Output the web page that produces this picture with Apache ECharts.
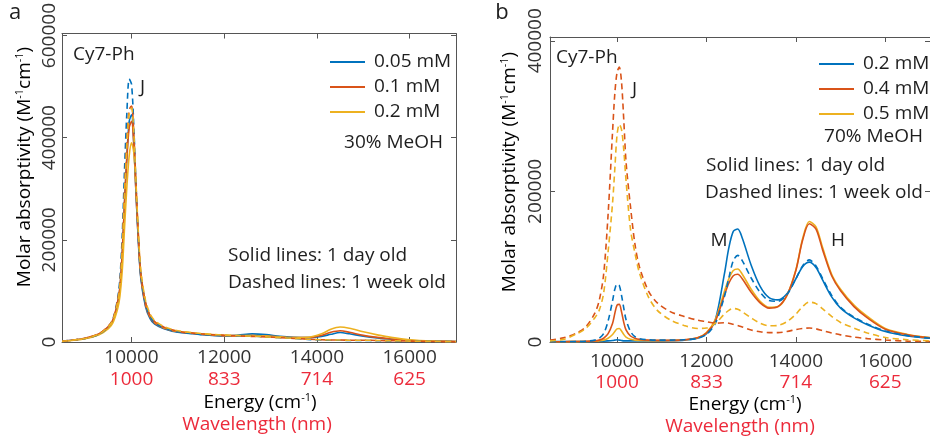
<!DOCTYPE html>
<html><head><meta charset="utf-8">
<script src="https://cdn.jsdelivr.net/npm/echarts@6/dist/echarts.min.js"></script>
<style>html,body{margin:0;padding:0;background:#fff}#c{width:930px;height:442px}</style>
</head><body><div id="c"></div>
<script>
// ---------- Panel a (30% MeOH) ----------
const energyA = [8500, 9000, 9300, 9500, 9600, 9700, 9750, 9800, 9850, 9900, 9950, 10000, 10050, 10100, 10150, 10200, 10300, 10400, 10500, 10700, 11000, 11500, 12000, 12300, 12600, 12900, 13200, 13500, 13800, 14100, 14300, 14500, 14700, 15000, 15300, 15600, 16000, 16500, 17000];
const a005Day = [1500, 7000, 15000, 29000, 42000, 75000, 105000, 172000, 275000, 365000, 432000, 445000, 388000, 285000, 192000, 125000, 70000, 46000, 35000, 26000, 19000, 14500, 12000, 13500, 16000, 14500, 11000, 9000, 8500, 11000, 15000, 18500, 16000, 11500, 8000, 5500, 3000, 1500, 800];
const a01Day = [1500, 7500, 16000, 30000, 44000, 78000, 108000, 175000, 275000, 360000, 420000, 432000, 385000, 285000, 195000, 128000, 73000, 48000, 37000, 27000, 20000, 15500, 12500, 12000, 12500, 11500, 10000, 8500, 8500, 13000, 19000, 22000, 19000, 13000, 9000, 6000, 3000, 1500, 800];
const a02Day = [1200, 6500, 14000, 26000, 38000, 65000, 90000, 140000, 225000, 305000, 365000, 390000, 370000, 295000, 205000, 135000, 78000, 51000, 39000, 28000, 21000, 16000, 13000, 12500, 12500, 11500, 10000, 8500, 9000, 16000, 25000, 29500, 27000, 20000, 14000, 9000, 4500, 2000, 900];
const a005Week = [1500, 7000, 15000, 30000, 45000, 85000, 125000, 210000, 340000, 450000, 515000, 505000, 420000, 300000, 200000, 132000, 76000, 50000, 38000, 28000, 20000, 15000, 12500, 12000, 11500, 10000, 8500, 7000, 5000, 4000, 3500, 3500, 3000, 3000, 2500, 2000, 1500, 1000, 600];
const a01Week = [1500, 7500, 16000, 31000, 45000, 82000, 115000, 190000, 300000, 395000, 455000, 462000, 405000, 300000, 205000, 135000, 78000, 52000, 40000, 29000, 21000, 16000, 13000, 12000, 11000, 10000, 8500, 7000, 5500, 4500, 4000, 4000, 3500, 3500, 3000, 2500, 1800, 1000, 600];
const a02Week = [1400, 7000, 15500, 30000, 43000, 78000, 110000, 180000, 290000, 385000, 448000, 458000, 408000, 305000, 210000, 140000, 82000, 55000, 42000, 30000, 22000, 16500, 13500, 12500, 11500, 10000, 8500, 7000, 5500, 4500, 4000, 4000, 3500, 3500, 3000, 2500, 1800, 1000, 600];

// ---------- Panel b (70% MeOH) ----------
const energyB = [8500, 8800, 9100, 9300, 9500, 9600, 9700, 9800, 9900, 9950, 10000, 10050, 10100, 10150, 10200, 10300, 10400, 10500, 10700, 10900, 11200, 11500, 11800, 12000, 12200, 12400, 12500, 12600, 12700, 12800, 13000, 13200, 13400, 13600, 13800, 14000, 14150, 14300, 14450, 14600, 14800, 15000, 15300, 15600, 16000, 16500, 17000];
const b02Day = [500, 500, 500, 600, 800, 1000, 1200, 1500, 2000, 2500, 3000, 2500, 2000, 1500, 1500, 1500, 1500, 1500, 1500, 1500, 1800, 2500, 5000, 11000, 30000, 90000, 125000, 147000, 150000, 138000, 102000, 74000, 59000, 56000, 64000, 84000, 100000, 106000, 99000, 82000, 60000, 45000, 32000, 23000, 14000, 8000, 5000];
const b04Day = [300, 400, 600, 900, 1500, 2500, 5000, 11000, 25000, 38000, 49000, 50000, 40000, 26000, 16000, 8000, 5000, 3500, 2500, 2200, 2200, 2800, 5500, 12000, 28000, 62000, 78000, 88000, 90000, 84000, 66000, 52000, 45000, 47000, 62000, 95000, 135000, 157000, 150000, 122000, 88000, 68000, 47000, 32000, 17000, 9500, 5500];
const b05Day = [300, 400, 500, 700, 1000, 1500, 2500, 5000, 10000, 14000, 17500, 18000, 14500, 10000, 6500, 3500, 2500, 2000, 1800, 1800, 2000, 2800, 5500, 12500, 30000, 67000, 84000, 95000, 97000, 90000, 70000, 54000, 46000, 47000, 62000, 96000, 137000, 160000, 153000, 125000, 90000, 70000, 49000, 34000, 18000, 10000, 6000];
const b02Week = [300, 300, 500, 1000, 2500, 5000, 11000, 28000, 55000, 70000, 77000, 75000, 62000, 45000, 30000, 14000, 7000, 4500, 3000, 2500, 2500, 3000, 5000, 10000, 25000, 60000, 85000, 108000, 115000, 108000, 85000, 66000, 55000, 54000, 63000, 84000, 101000, 109000, 101000, 84000, 62000, 46000, 33000, 24000, 14500, 8500, 5000];
const b04Week = [2500, 5500, 12000, 20000, 38000, 55000, 90000, 170000, 280000, 330000, 358000, 365000, 345000, 295000, 240000, 180000, 130000, 100000, 68000, 52000, 40000, 34000, 29000, 27000, 25000, 25500, 25000, 23500, 22000, 20000, 16000, 13500, 12500, 12500, 14000, 16500, 18000, 18500, 17500, 15000, 12000, 9500, 6500, 4500, 2600, 1200, 600];
const b05Week = [1500, 3500, 11000, 18000, 32000, 42000, 65000, 120000, 185000, 230000, 275000, 289000, 282000, 255000, 215000, 150000, 118000, 92000, 60000, 42000, 29000, 22000, 18000, 18500, 25000, 37000, 42000, 44500, 43500, 40000, 32000, 25000, 21500, 22000, 27000, 37000, 47000, 53000, 51000, 44000, 34000, 26000, 18500, 12000, 6000, 3000, 1500];

// ---------- Axis tick labels ----------
const energyTicks = [10000, 12000, 14000, 16000];
const wavelengthLabels = ['1000', '833', '714', '625'];
const yTicksA = [0, 200000, 400000, 600000];
const yTicksB = [0, 200000, 400000];

const FONT = "'Open Sans', sans-serif";
const BLUE = '#0072BD', ORANGE = '#D95319', YELLOW = '#EDB120';
const RED = '#EC2A3A', INK = '#1e1e1e', AXIS = '#555';

function line(name, xs, ys, color, dashed, xi, yi) {
  return {
    name, type: 'line', xAxisIndex: xi, yAxisIndex: yi, symbol: 'none',
    smooth: 0.3, color,
    lineStyle: { color, width: 1.6, type: dashed ? [6, 4] : 'solid' },
    data: xs.map((x, i) => [x, ys[i]]), animation: false
  };
}

function xBottom(grid, margin, lh) {
  return {
    type: 'value', gridIndex: grid, position: 'bottom', min: 8500, max: 17000,
    axisLine: { show: true, onZero: false, lineStyle: { color: AXIS, width: 1 } },
    axisTick: { show: true, inside: true, length: 5, lineStyle: { color: AXIS }, customValues: energyTicks },
    axisLabel: {
      show: true, margin, customValues: energyTicks,
      formatter: v => '{e|' + v + '}\n{w|' + wavelengthLabels[energyTicks.indexOf(v)] + '}',
      rich: {
        e: { fontFamily: FONT, fontSize: 19, color: '#333', lineHeight: lh },
        w: { fontFamily: FONT, fontSize: 19, color: RED, lineHeight: lh }
      }
    },
    splitLine: { show: false }
  };
}
function xTop(grid) {
  return {
    type: 'value', gridIndex: grid, position: 'top', min: 8500, max: 17000,
    axisLine: { show: true, onZero: false, lineStyle: { color: AXIS, width: 1 } },
    axisTick: { show: true, inside: true, length: 5, lineStyle: { color: AXIS }, customValues: energyTicks },
    axisLabel: { show: false }, splitLine: { show: false }
  };
}
function yLeft(grid, max, ticks, margin) {
  return {
    type: 'value', gridIndex: grid, position: 'left', min: 0, max,
    axisLine: { show: true, onZero: false, lineStyle: { color: AXIS, width: 1 } },
    axisTick: { show: true, inside: true, length: 5, lineStyle: { color: AXIS }, customValues: ticks },
    axisLabel: { show: true, rotate: 90, margin, customValues: ticks, fontFamily: FONT, fontSize: 19, color: '#333', formatter: v => String(v) },
    splitLine: { show: false }
  };
}
function yRight(grid, max, ticks) {
  return {
    type: 'value', gridIndex: grid, position: 'right', min: 0, max,
    axisLine: { show: true, onZero: false, lineStyle: { color: AXIS, width: 1 } },
    axisTick: { show: true, inside: true, length: 5, lineStyle: { color: AXIS }, customValues: ticks },
    axisLabel: { show: false }, splitLine: { show: false }
  };
}

function txt(text, x, y, align, extra) {
  return {
    type: 'text', x, y, silent: true,
    style: Object.assign({ text, fontFamily: FONT, fontSize: 19, fill: INK, align, verticalAlign: 'middle' }, extra || {})
  };
}
const supRich = {
  n: { fontFamily: FONT, fontSize: 19, lineHeight: 22, color: INK },
  s: { fontFamily: FONT, fontSize: 11, lineHeight: 22, verticalAlign: 'top', color: INK }
};
function yName(x, y) {
  return {
    type: 'text', x, y, rotation: Math.PI / 2, silent: true,
    style: { text: '{n|Molar absorptivity (M}{s|-1}{n|cm}{s|-1}{n|)}', rich: supRich, align: 'center', verticalAlign: 'middle' }
  };
}
function eName(x, y) {
  return {
    type: 'text', x, y, silent: true,
    style: { text: '{n|Energy (cm}{s|-1}{n|)}', rich: supRich, align: 'center', verticalAlign: 'middle' }
  };
}

const legendBase = {
  orient: 'vertical', icon: 'rect', itemWidth: 35, itemHeight: 2, itemGap: 5,
  formatter: n => n.slice(2), selectedMode: false,
  textStyle: { fontFamily: FONT, fontSize: 19, color: INK, lineHeight: 20, padding: [0, 0, 0, 4] }
};

const option = {
  animation: false,
  backgroundColor: '#fff',
  grid: [
    { left: 62, top: 31, width: 394, height: 311 },
    { left: 550, top: 37, width: 389, height: 305 }
  ],
  xAxis: [xBottom(0, 5, 22), xTop(0), xBottom(1, 9, 21), xTop(1)],
  yAxis: [yLeft(0, 604000, yTicksA, 3), yRight(0, 604000, yTicksA), yLeft(1, 405000, yTicksB, 5), yRight(1, 405000, yTicksB)],
  legend: [
    Object.assign({}, legendBase, { data: ['a:0.05 mM', 'a:0.1 mM', 'a:0.2 mM'], left: 325, top: 47 }),
    Object.assign({}, legendBase, { data: ['b:0.2 mM', 'b:0.4 mM', 'b:0.5 mM'], left: 814, top: 49 })
  ],
  series: [
    line('a:0.05 mM', energyA, a005Day, BLUE, false, 0, 0),
    line('a:0.1 mM', energyA, a01Day, ORANGE, false, 0, 0),
    line('a:0.2 mM', energyA, a02Day, YELLOW, false, 0, 0),
    line('a:0.05 mM wk', energyA, a005Week, BLUE, true, 0, 0),
    line('a:0.1 mM wk', energyA, a01Week, ORANGE, true, 0, 0),
    line('a:0.2 mM wk', energyA, a02Week, YELLOW, true, 0, 0),
    line('b:0.2 mM', energyB, b02Day, BLUE, false, 2, 2),
    line('b:0.5 mM', energyB, b05Day, YELLOW, false, 2, 2),
    line('b:0.4 mM', energyB, b04Day, ORANGE, false, 2, 2),
    line('b:0.2 mM wk', energyB, b02Week, BLUE, true, 2, 2),
    line('b:0.4 mM wk', energyB, b04Week, ORANGE, true, 2, 2),
    line('b:0.5 mM wk', energyB, b05Week, YELLOW, true, 2, 2)
  ],
  graphic: [
    txt('a', 15, 13, 'center', { fontSize: 22 }),
    txt('b', 502, 13, 'center', { fontSize: 22 }),
    txt('Cy7-Ph', 73, 55, 'left'),
    txt('J', 140, 88, 'left'),
    txt('30% MeOH', 443, 143, 'right'),
    txt('Solid lines: 1 day old', 228, 256, 'left'),
    txt('Dashed lines: 1 week old', 228, 283, 'left'),
    txt('Cy7-Ph', 556, 58, 'left'),
    txt('J', 632, 90, 'left'),
    txt('70% MeOH', 923, 137, 'right'),
    txt('Solid lines: 1 day old', 706, 166, 'left'),
    txt('Dashed lines: 1 week old', 705, 193, 'left'),
    txt('M', 719, 241, 'center'),
    txt('H', 838, 241, 'center'),
    yName(25, 167),
    yName(510, 172),
    eName(260, 403),
    eName(745, 405),
    txt('Wavelength (nm)', 257, 425, 'center', { fill: RED }),
    txt('Wavelength (nm)', 740, 427, 'center', { fill: RED })
  ]
};

const chart = echarts.init(document.getElementById('c'), null, { renderer: 'canvas' });
chart.setOption(option);
</script></body></html>
